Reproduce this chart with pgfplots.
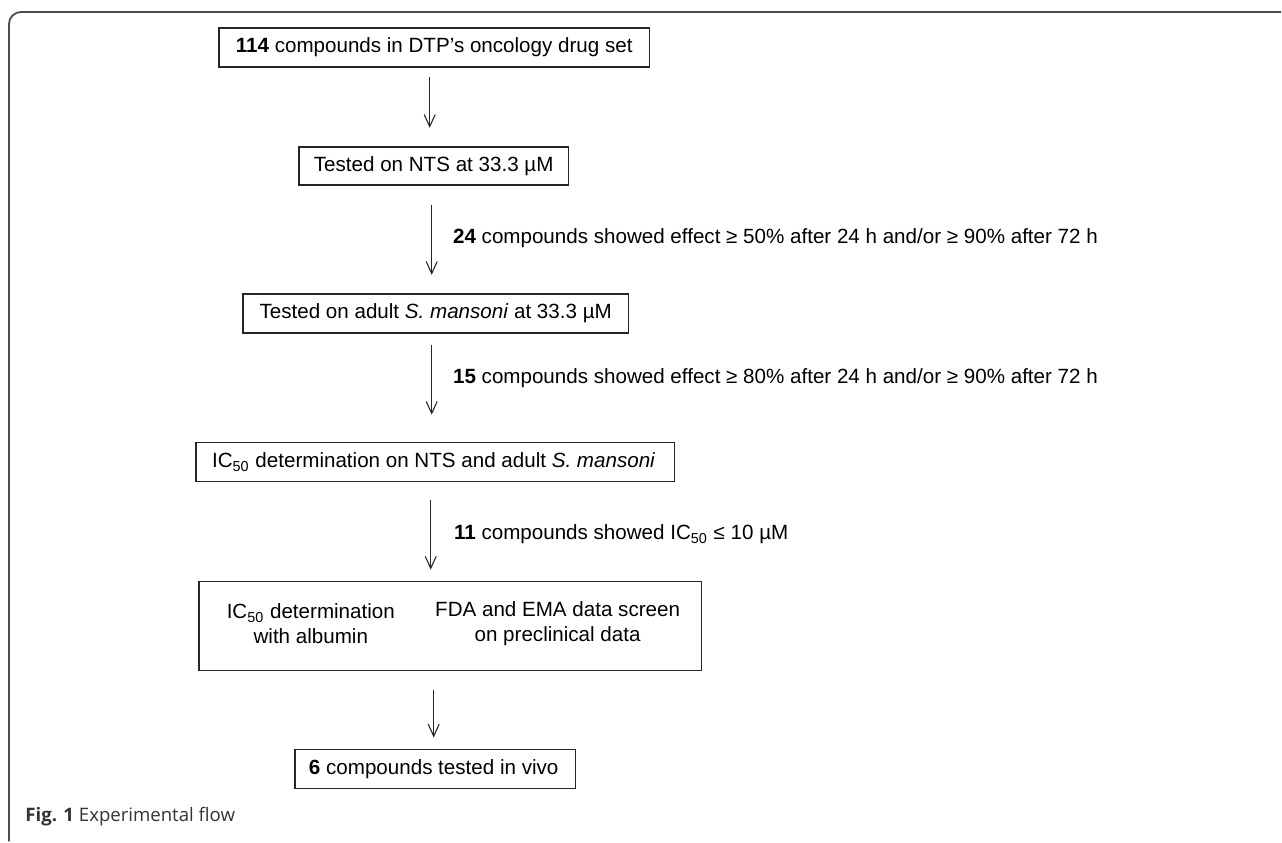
\documentclass[border=0pt]{standalone}
\usepackage{fontspec}
\setmainfont{Liberation Sans}
\newfontfamily\capfont{Open Sans}
\usepackage{pgfplots}
\pgfplotsset{compat=1.18}
\usetikzlibrary{arrows.meta}
\begin{document}
\begin{tikzpicture}
\begin{axis}[
    width=641pt, height=421pt,
    scale only axis,
    xmin=0, xmax=1282,
    ymin=0, ymax=842,
    y dir=reverse,
    axis lines=none,
    clip=false,
]
\path (axis cs:0,0) rectangle (axis cs:1282,842);

% outer frame
\draw[line width=0.9pt, black!70, rounded corners=6pt]
    (axis cs:9,842) -- (axis cs:9,12) -- (axis cs:1282,12);

\tikzset{
    bx/.style={line width=0.75pt, black!85},
    ar/.style={line width=0.55pt, black!85, -{Straight Barb[length=6pt,width=5.5pt]}},
    tx/.style={font=\fontsize{10.3pt}{12.5pt}\selectfont, inner sep=0pt},
}

% boxes
\draw[bx] (axis cs:219,28) rectangle (axis cs:650,67);
\node[tx] at (axis cs:434.5,47.5) {\textbf{114} compounds in DTP’s oncology drug set};
\draw[ar] (axis cs:430,77) -- (axis cs:430,128);

\draw[bx] (axis cs:299,147) rectangle (axis cs:569,185);
\node[tx] at (axis cs:434,166) {Tested on NTS at 33.3 µM};
\draw[ar] (axis cs:432,205) -- (axis cs:432,275);
\node[tx, anchor=west] at (axis cs:453,238) {\textbf{24} compounds showed effect ≥ 50\% after 24 h and/or ≥ 90\% after 72 h};

\draw[bx] (axis cs:243,294) rectangle (axis cs:629,333);
\node[tx] at (axis cs:436,313.5) {Tested on adult \textit{S. mansoni} at 33.3 µM};
\draw[ar] (axis cs:432,345) -- (axis cs:432,415);
\node[tx, anchor=west] at (axis cs:453,378) {\textbf{15} compounds showed effect ≥ 80\% after 24 h and/or ≥ 90\% after 72 h};

\draw[bx] (axis cs:196,443) rectangle (axis cs:675,482);
\node[tx] at (axis cs:434,462.5) {IC\textsubscript{50} determination on NTS and adult \textit{S. mansoni}};
\draw[ar] (axis cs:431,500) -- (axis cs:431,570);
\node[tx, anchor=west] at (axis cs:454,535) {\textbf{11} compounds showed IC\textsubscript{50} ≤ 10 µM};

\draw[bx] (axis cs:199,582) rectangle (axis cs:702,671);
\node[tx, align=center] at (axis cs:311,624.5) {IC\textsubscript{50} determination\\with albumin};
\node[tx, align=center] at (axis cs:558,624.5) {FDA and EMA data screen\\on preclinical data};
\draw[ar] (axis cs:434,690) -- (axis cs:434,738);

\draw[bx] (axis cs:295,750) rectangle (axis cs:576,789);
\node[tx] at (axis cs:434,769.5) {\textbf{6} compounds tested in vivo};

% caption
\node[anchor=base west, inner sep=0pt, text=black!80,
      font=\capfont\fontsize{9.3pt}{11pt}\selectfont] at (axis cs:25,822)
    {\textbf{Fig. 1} Experimental flow};
\end{axis}
\end{tikzpicture}
\end{document}
